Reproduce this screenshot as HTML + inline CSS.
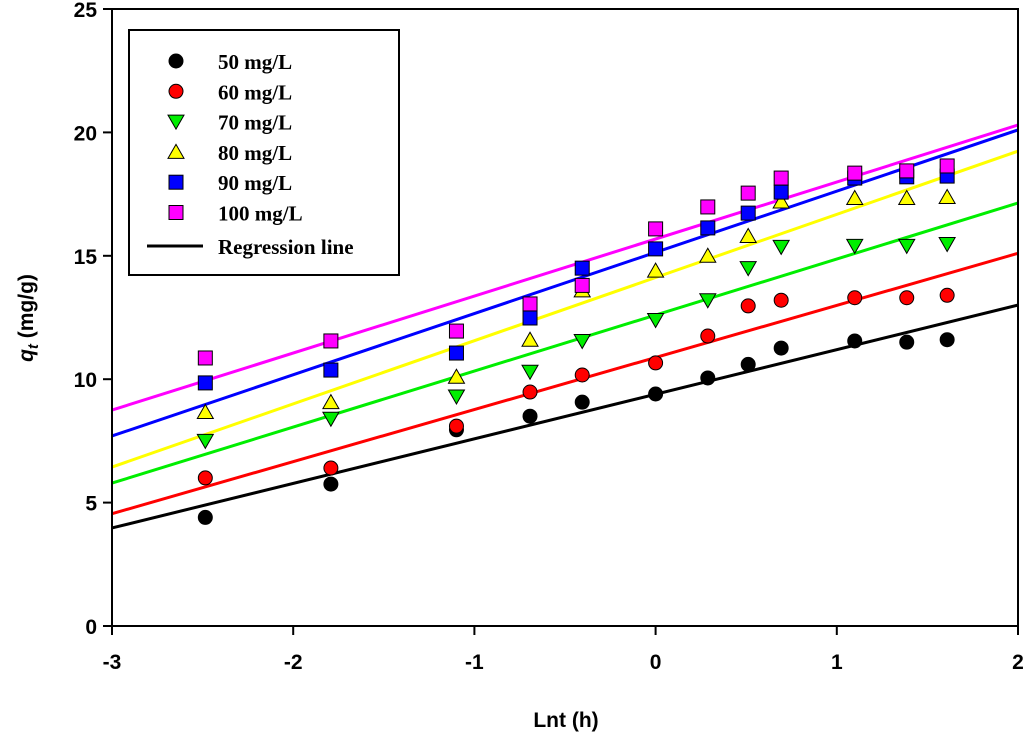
<!DOCTYPE html>
<html><head><meta charset="utf-8"><style>
html,body{margin:0;padding:0;background:#fff;}
svg{display:block;}
.tk{font-family:"Liberation Sans",Arial,sans-serif;font-weight:bold;font-size:21px;}
.lg{font-family:"Liberation Serif",serif;font-weight:bold;font-size:21px;}
</style></head><body>
<svg id="chart" width="1024" height="733" viewBox="0 0 1024 733" xmlns="http://www.w3.org/2000/svg">
<g id="grid"></g><g id="lines"></g><g id="marks"></g><g id="axes"></g><g id="legend"></g>
</svg>
<script>
const xVals = [-2.485, -1.792, -1.099, -0.693, -0.405, 0, 0.288, 0.511, 0.693, 1.099, 1.386, 1.609];
const s50 = [4.4, 5.75, 7.95, 8.5, 9.07, 9.4, 10.05, 10.6, 11.26, 11.55, 11.5, 11.6];
const s60 = [6.0, 6.4, 8.1, 9.48, 10.17, 10.66, 11.75, 12.97, 13.2, 13.3, 13.3, 13.4];
const s70 = [7.5, 8.4, 9.3, 10.3, 11.55, 12.4, 13.2, 14.5, 15.36, 15.4, 15.4, 15.48];
const s80 = [8.67, 9.07, 10.1, 11.6, 13.6, 14.4, 15.0, 15.8, 17.2, 17.34, 17.34, 17.38];
const s90 = [9.85, 10.37, 11.06, 12.48, 14.5, 15.28, 16.13, 16.73, 17.58, 18.15, 18.2, 18.23];
const s100 = [10.86, 11.55, 11.95, 13.05, 13.8, 16.09, 16.98, 17.54, 18.15, 18.35, 18.44, 18.64];
const slopes = [1.806, 2.11, 2.27, 2.56, 2.48, 2.31];
const intercepts = [9.39, 10.88, 12.6, 14.12, 15.14, 15.68];
const seriesNames = ["50 mg/L","60 mg/L","70 mg/L","80 mg/L","90 mg/L","100 mg/L"];
const xTicks = [-3,-2,-1,0,1,2];
const yTicks = [0,5,10,15,20,25];

const NS="http://www.w3.org/2000/svg";
const X0=112,X1=1018,Y0=626,Y1=9;
const xs=v=>X0+(v+3)/5*(X1-X0);
const ys=v=>Y0-v/25*(Y0-Y1);
function mk(tag,attrs,parent){const e=document.createElementNS(NS,tag);for(const k in attrs)e.setAttribute(k,attrs[k]);parent.appendChild(e);return e;}
const colors=["#000000","#ff0000","#00ee00","#ffff00","#0000ff","#ff00ff"];
const shapes=["circle","circle","down","up","square","square"];
const allSeries=[s50,s60,s70,s80,s90,s100];
const G=id=>document.getElementById(id);

for(let i=0;i<6;i++){
  const l=mk('line',{x1:xs(-3),y1:ys(intercepts[i]-3*slopes[i]),x2:xs(2),y2:ys(intercepts[i]+2*slopes[i]),stroke:colors[i],'stroke-width':3},G('lines'));
  
  
}
function marker(shape,cx,cy,fill,parent){
  let e;
  if(shape==='circle') e=mk('circle',{cx:cx,cy:cy,r:7,fill:fill,stroke:'#000','stroke-width':1},parent);
  else if(shape==='square') e=mk('rect',{x:cx-7,y:cy-7,width:14,height:14,fill:fill,stroke:'#000','stroke-width':1},parent);
  else if(shape==='down') e=mk('polygon',{points:`${cx-8},${cy-6.5} ${cx+8},${cy-6.5} ${cx},${cy+7.5}`,fill:fill,stroke:'#000','stroke-width':1},parent);
  else e=mk('polygon',{points:`${cx-8},${cy+6.5} ${cx+8},${cy+6.5} ${cx},${cy-7.5}`,fill:fill,stroke:'#000','stroke-width':1},parent);
  return e;
}
for(let i=0;i<6;i++){
  allSeries[i].forEach((v,j)=>{
    const e=marker(shapes[i],xs(xVals[j]),ys(v),colors[i],G('marks'));
    
    
  });
}
const ax=G('axes');
const frame=mk('rect',{x:X0,y:Y1,width:X1-X0,height:Y0-Y1,fill:'none',stroke:'#000','stroke-width':2},ax);


xTicks.forEach(t=>{
  mk('line',{x1:xs(t),y1:Y0,x2:xs(t),y2:Y0+9,stroke:'#000','stroke-width':2},ax);
  const tx=mk('text',{x:xs(t),y:Y0+43,'text-anchor':'middle',class:'tk'},ax);
  tx.textContent=t;
  
  
});
yTicks.forEach(t=>{
  mk('line',{x1:X0-9,y1:ys(t),x2:X0,y2:ys(t),stroke:'#000','stroke-width':2},ax);
  const tx=mk('text',{x:X0-15,y:ys(t)+8,'text-anchor':'end',class:'tk'},ax);
  tx.textContent=t;
  
  
});
const xt=mk('text',{x:566,y:727,'text-anchor':'middle',class:'tk'},ax);
xt.textContent='Lnt (h)';


const yt=mk('text',{x:0,y:0,'text-anchor':'middle',class:'tk',transform:'translate(33,318) rotate(-90)'},ax);
yt.innerHTML='<tspan font-style="italic">q</tspan><tspan font-style="italic" font-size="15" dy="5">t</tspan><tspan dy="-5"> (mg/g)</tspan>';


const lg=G('legend');
const box=mk('rect',{x:129,y:30,width:270,height:245,fill:'#fff',stroke:'#000','stroke-width':2},lg);


for(let i=0;i<6;i++){
  const cy=61+i*30.3;
  const e=marker(shapes[i],176,cy,colors[i],lg);
  
  
  const t=mk('text',{x:218,y:cy+8,class:'lg'},lg);
  t.textContent=seriesNames[i];
  
  
}
const rl=mk('line',{x1:147,y1:246,x2:203,y2:246,stroke:'#000','stroke-width':3},lg);


const rt=mk('text',{x:218,y:254,class:'lg'},lg);
rt.textContent='Regression line';


</script>
</body></html>
